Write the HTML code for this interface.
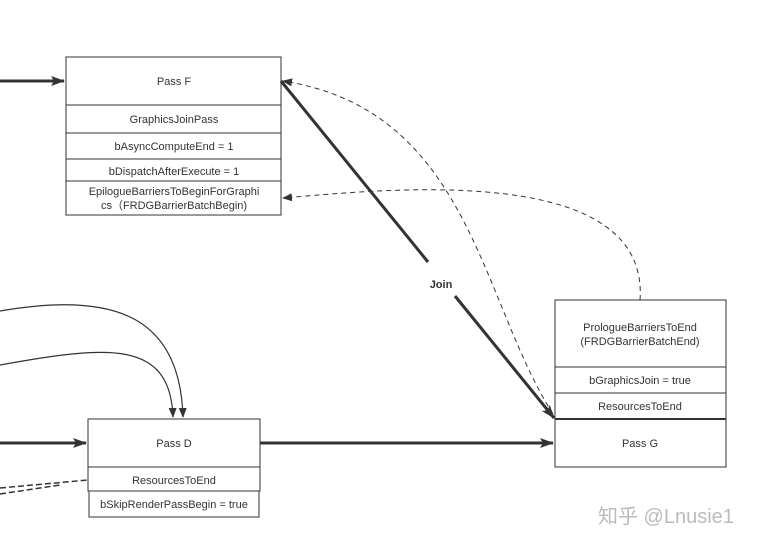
<!DOCTYPE html>
<html><head><meta charset="utf-8"><style>
body{margin:0;background:#fff;}
svg text{font-family:"Liberation Sans","DejaVu Sans",sans-serif;font-size:11px;fill:#333;}
</style></head><body>
<svg width="774" height="546" viewBox="0 0 774 546" xmlns="http://www.w3.org/2000/svg">
<defs>
<marker id="a" markerWidth="10" markerHeight="8" refX="9" refY="4" orient="auto" markerUnits="userSpaceOnUse"><path d="M0,0 L10,4 L0,8 z" fill="#333"/></marker>
<marker id="b" markerWidth="14" markerHeight="10" refX="13" refY="5" orient="auto" markerUnits="userSpaceOnUse"><path d="M0,0 L14,5 L0,10 L3,5 z" fill="#333"/></marker>
</defs>
<g fill="#fff" stroke="#333" stroke-width="1">
<rect x="66" y="57" width="215" height="158"/>
<line x1="66" y1="105" x2="281" y2="105"/>
<line x1="66" y1="133" x2="281" y2="133"/>
<line x1="66" y1="159" x2="281" y2="159"/>
<line x1="66" y1="181" x2="281" y2="181"/>
<rect x="88" y="419" width="172" height="72"/>
<line x1="88" y1="467" x2="260" y2="467"/>
<rect x="89" y="491" width="170" height="26"/>
<rect x="555" y="300" width="171" height="167"/>
<line x1="555" y1="367" x2="726" y2="367"/>
<line x1="555" y1="393" x2="726" y2="393"/>
<line x1="555" y1="419" x2="726" y2="419" stroke-width="2"/>
</g>
<g text-anchor="middle">
<text x="174" y="85">Pass F</text>
<text x="174" y="123">GraphicsJoinPass</text>
<text x="174" y="150">bAsyncComputeEnd = 1</text>
<text x="174" y="175">bDispatchAfterExecute = 1</text>
<text x="174" y="195">EpilogueBarriersToBeginForGraphi</text>
<text x="174" y="209">cs（FRDGBarrierBatchBegin)</text>
<text x="174" y="447">Pass D</text>
<text x="174" y="484">ResourcesToEnd</text>
<text x="174" y="508">bSkipRenderPassBegin = true</text>
<text x="640" y="331">PrologueBarriersToEnd</text>
<text x="640" y="345">(FRDGBarrierBatchEnd)</text>
<text x="640" y="384">bGraphicsJoin = true</text>
<text x="640" y="410">ResourcesToEnd</text>
<text x="640" y="447">Pass G</text>
<text x="441" y="288" font-weight="bold" style="font-weight:bold">Join</text>
</g>
<g fill="none" stroke="#333">
<line x1="0" y1="81" x2="64" y2="81" stroke-width="3" marker-end="url(#b)"/>
<line x1="0" y1="443" x2="86" y2="443" stroke-width="3" marker-end="url(#b)"/>
<line x1="260" y1="443" x2="553" y2="443" stroke-width="3" marker-end="url(#b)"/>
<path d="M281,81 L428,262 M455,296 L554,418" stroke-width="3" marker-end="url(#b)"/>
<path d="M0,311 C120,290 180,320 183,417" stroke-width="1.2" marker-end="url(#a)"/>
<path d="M0,365 C110,345 170,340 173,417" stroke-width="1.2" marker-end="url(#a)"/>
<path d="M553,414 C480,300 470,110 283,81" stroke-width="1" stroke-dasharray="5,4" marker-end="url(#a)"/>
<path d="M640,300 C650,160 380,190 283,198" stroke-width="1" stroke-dasharray="5,4" marker-end="url(#a)"/>
<path d="M0,488 L88,480 M0,494 L60,485" stroke-width="1.5" stroke-dasharray="6,3"/>
</g>
<text x="598" y="523" style="font-family:'Liberation Sans','Noto Sans CJK SC',sans-serif;font-size:20px;fill:#bbb">知乎 @Lnusie1</text>
</svg>
</body></html>
